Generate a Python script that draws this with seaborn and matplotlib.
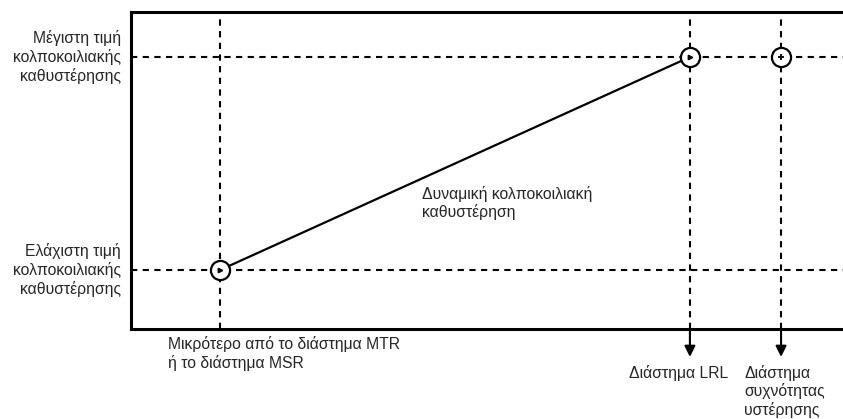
import matplotlib
matplotlib.use("Agg")
import matplotlib.pyplot as plt
import matplotlib.transforms as mtransforms
import seaborn as sns
import pandas as pd

# ---- data ----
x_positions = [1.25, 7.85, 9.13]          # min interval, LRL, hysteresis interval
y_levels = [1.86, 8.58]                   # min AV delay, max AV delay
line_x = [1.25, 7.85]
line_y = [1.86, 8.58]
marker_x = [1.25, 7.85, 9.13]
marker_y = [1.86, 8.58, 8.58]
y_labels = ["Ελάχιστη τιμή\nκολποκοιλιακής\nκαθυστέρησης",
            "Μέγιστη τιμή\nκολποκοιλιακής\nκαθυστέρησης"]
x_labels = ["Μικρότερο από το διάστημα MTR\nή το διάστημα MSR",
            "Διάστημα LRL",
            "Διάστημα\nσυχνότητας\nυστέρησης"]
curve_label = "Δυναμική κολποκοιλιακή\nκαθυστέρηση"

sns.set_style("white")
plt.rcParams['font.family'] = ['Liberation Sans', 'DejaVu Sans']
FS = 11.3

fig = plt.figure(figsize=(8.43, 4.19), dpi=100)
ax_w_px = 1.02 * 843 - 131
ax = fig.add_axes([131/843, 90/419, ax_w_px/843, 317/419])
ax.set_xlim(0, ax_w_px / 71.2)
ax.set_ylim(0, 10)

dash = (0, (3, 2.6))
for xv in x_positions:
    ax.axvline(xv, color="black", lw=1.5, linestyle=dash, zorder=1)
for yv in y_levels:
    ax.axhline(yv, color="black", lw=1.5, linestyle=dash, zorder=1)

df_line = pd.DataFrame({"x": line_x, "y": line_y})
sns.lineplot(data=df_line, x="x", y="y", ax=ax, color="black", lw=1.6,
             sort=False, zorder=2)

df_m = pd.DataFrame({"x": marker_x, "y": marker_y})
sns.scatterplot(data=df_m, x="x", y="y", ax=ax, s=190, marker="o",
                facecolor="white", edgecolor="black", linewidth=1.6, zorder=3)
# inner marks
ax.plot(marker_x[:2], marker_y[:2], linestyle="none", marker=">",
        markersize=3.2, color="black", zorder=4)
ax.plot(marker_x[2:], marker_y[2:], linestyle="none", marker="|",
        markersize=5, mew=1.3, color="black", zorder=4)
ax.plot(marker_x[2:], marker_y[2:], linestyle="none", marker="_",
        markersize=4, mew=1.3, color="black", zorder=4)

for sp in ["left", "top", "bottom"]:
    ax.spines[sp].set_linewidth(2.2)
    ax.spines[sp].set_color("black")
ax.spines["right"].set_visible(False)
ax.set_xticks([])
ax.set_yticks([])
ax.set_xlabel("")
ax.set_ylabel("")

blend_y = mtransforms.blended_transform_factory(ax.transAxes, ax.transData)
blend_x = mtransforms.blended_transform_factory(ax.transData, ax.transAxes)

for yv, lab in zip(y_levels, y_labels):
    ax.text(-0.0137, yv, lab, transform=blend_y, ha="right", va="center",
            fontsize=FS, linespacing=1.2)

ax.text(4.09, 3.97, curve_label, ha="left", va="center", fontsize=FS,
        linespacing=1.2)

ax.text(0.52, -0.022, x_labels[0], transform=blend_x, ha="left", va="top",
        fontsize=FS, linespacing=1.2)
ax.text(6.99, -0.113, x_labels[1], transform=blend_x, ha="left", va="top",
        fontsize=FS, linespacing=1.2)
ax.text(8.61, -0.113, x_labels[2], transform=blend_x, ha="left", va="top",
        fontsize=FS, linespacing=1.2)

for xv in x_positions[1:]:
    ax.annotate("", xy=(xv, -0.088), xytext=(xv, 0), xycoords=blend_x,
                textcoords=blend_x, annotation_clip=False,
                arrowprops=dict(arrowstyle="-|>", color="black", lw=1.5,
                                mutation_scale=16, shrinkA=0, shrinkB=0))

fig.savefig("out.png", dpi=100)
